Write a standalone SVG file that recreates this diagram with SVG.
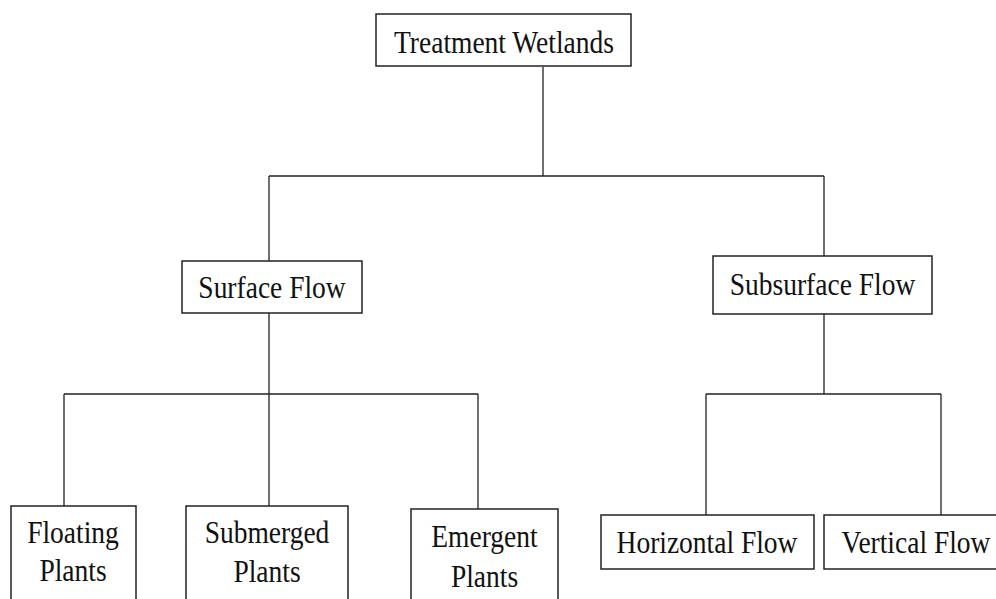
<svg xmlns="http://www.w3.org/2000/svg" width="996" height="599" viewBox="0 0 996 599">
<style>
.box{fill:#fff;stroke:#222;stroke-width:1.5}
.ln{fill:none;stroke:#222;stroke-width:1.3}
.t{font-family:"Liberation Serif","Times New Roman",serif;font-size:27.5px;fill:#111;text-anchor:middle}
</style>
<rect width="996" height="599" fill="#fff"/>
<g id="connectors">
<path class="ln" d="M543 67V176M269 176H824M269 176V261M824 176V256"/>
<path class="ln" d="M269 313V394M64 394H478M64 394V506M269 394V506M478 394V509"/>
<path class="ln" d="M824 314V394M706 394H941M706 394V515M941 394V515"/>
</g>
<g id="treatment-wetlands">
<rect class="box" x="376" y="14" width="255" height="52"/>
<text class="t" transform="translate(504,53) scale(1,1.16)">Treatment Wetlands</text>
</g>
<g id="surface-flow">
<rect class="box" x="182" y="261" width="180" height="52"/>
<text class="t" transform="translate(272,298) scale(1,1.16)">Surface Flow</text>
</g>
<g id="subsurface-flow">
<rect class="box" x="713" y="256" width="219" height="58"/>
<text class="t" transform="translate(822.5,295) scale(1,1.16)">Subsurface Flow</text>
</g>
<g id="floating-plants">
<rect class="box" x="11" y="506" width="125" height="110"/>
<text class="t" transform="translate(73,543) scale(1,1.16)">Floating</text>
<text class="t" transform="translate(73,581) scale(1,1.16)">Plants</text>
</g>
<g id="submerged-plants">
<rect class="box" x="186" y="506" width="162" height="110"/>
<text class="t" transform="translate(267,543) scale(1,1.16)">Submerged</text>
<text class="t" transform="translate(267,582) scale(1,1.16)">Plants</text>
</g>
<g id="emergent-plants">
<rect class="box" x="411" y="509" width="147" height="110"/>
<text class="t" transform="translate(484.5,547) scale(1,1.16)">Emergent</text>
<text class="t" transform="translate(484.5,587) scale(1,1.16)">Plants</text>
</g>
<g id="horizontal-flow">
<rect class="box" x="601" y="515" width="213" height="54"/>
<text class="t" transform="translate(707,553) scale(1,1.16)">Horizontal Flow</text>
</g>
<g id="vertical-flow">
<rect class="box" x="824" y="515" width="186" height="54"/>
<text class="t" transform="translate(916,553) scale(1,1.16)">Vertical Flow</text>
</g>
</svg>
